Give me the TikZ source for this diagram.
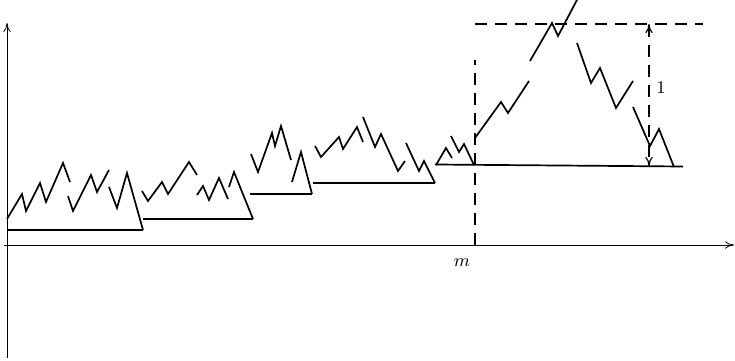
\documentclass[tikz,border=0pt]{standalone}
\usepackage{tikz}
\usetikzlibrary{arrows.meta,calc,positioning}

\begin{document}
\begin{tikzpicture}[
    x=0.5pt,
    y=0.5pt,
    axisline/.style={
        draw=black,
        line width=0.4pt,
        -{To[length=1.6mm,width=1.3mm]}
    },
    walkline/.style={
        draw=black,
        line width=0.85pt,
        line join=miter
    },
    levelline/.style={
        draw=black,
        line width=0.85pt
    },
    guideline/.style={
        draw=black,
        line width=0.7pt,
        dash pattern=on 6pt off 4pt
    },
    heightline/.style={
        draw=black,
        line width=0.6pt,
        dash pattern=on 6pt off 4pt,
        {To[length=1.6mm,width=1.3mm]}-{To[length=1.6mm,width=1.3mm]}
    }
]

\useasboundingbox (0,0) rectangle (735,360);

\draw[axisline] (7,2) -- (7,337);
\draw[axisline] (4,115) -- (734,115);

% first excursion
\draw[levelline] (7,130) -- (143,130);
\draw[walkline] (7,141) -- (22,166) -- (26,149) -- (40,177) -- (46,158) -- (63,197) -- (70,178);
\draw[walkline] (68,164) -- (73,149) -- (91,185) -- (97,168) -- (109,190);
\draw[walkline] (109,173) -- (117,152) -- (127,187) -- (143,130);

% second excursion
\draw[levelline] (143,141) -- (253,141);
\draw[walkline] (142,169) -- (148,159) -- (162,178) -- (168,166) -- (189,198) -- (197,185);
\draw[walkline] (197,165) -- (203,174) -- (209,160) -- (219,182) -- (228,161);
\draw[walkline] (229,173) -- (234,188) -- (253,141);

% third excursion
\draw[levelline] (250,166) -- (312,166);
\draw[walkline] (251,206) -- (258,188) -- (272,227) -- (275,214) -- (281,234) -- (291,200);
\draw[walkline] (292,178) -- (301,208) -- (312,166);

% fourth excursion
\draw[levelline] (313,177) -- (435,177);
\draw[walkline] (315,214) -- (321,203) -- (339,223) -- (343,211) -- (357,233) -- (363,218);
\draw[walkline] (363,243) -- (375,213) -- (381,226) -- (398,189) -- (405,199);
\draw[walkline] (406,217) -- (419,189) -- (424,199) -- (435,177);

% last excursion
\draw[levelline] (435,195.5) -- (683,193.5);
\draw[walkline] (436,195) -- (446,212) -- (452,202);
\draw[walkline] (451,224) -- (459,208) -- (464,216) -- (474,195);
\draw[walkline] (475,222) -- (501,258) -- (508,247) -- (529,279);
\draw[walkline] (530,299) -- (552,337) -- (558,324) -- (578,362);
\draw[walkline] (577,317) -- (591,277) -- (600,292) -- (616,252) -- (633,279);
\draw[walkline] (633,253) -- (650,214) -- (659,231) -- (674,193);

\draw[guideline] (475,336) -- (703,336);
\draw[guideline] (475,115) -- (475,300);

\coordinate (hightop) at (649,336);
\coordinate (highbot) at (649,194);
\draw[heightline] (hightop) -- (highbot);

\node[font=\small] (heightlabel) at (661,272) {$1$};
\node[font=\small] (mlabel) at (462,97) {$m$};

\end{tikzpicture}
\end{document}
